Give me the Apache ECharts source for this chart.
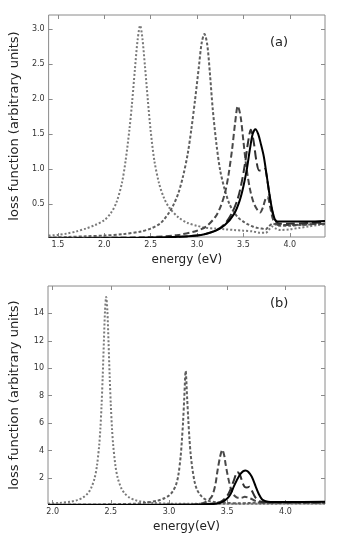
<!DOCTYPE html>
<html>
<head>
<meta charset="utf-8">
<script src="https://cdn.jsdelivr.net/npm/echarts@6/dist/echarts.min.js"></script>
<style>
html,body{margin:0;padding:0;background:#fff;}
#c{width:339px;height:542px;}
</style>
</head>
<body>
<div id="c"></div>
<script>
// ---------- Panel (a) ----------
var aXTicks = [1.5, 2.0, 2.5, 3.0, 3.5, 4.0];
var aYTicks = [0.5, 1.0, 1.5, 2.0, 2.5, 3.0];

var aDotX = [1.40,1.50,1.60,1.70,1.80,1.90,2.00,2.07,2.13,2.19,2.23,2.27,2.30,2.33,2.36,2.387,2.41,2.44,2.47,2.50,2.54,2.59,2.64,2.70,2.80,2.90,3.00,3.10,3.20,3.30,3.40,3.50,3.60,3.68,3.74,3.78,3.81,3.85,3.90,4.00,4.10,4.20,4.30,4.38];
var aDotY = [0.05,0.06,0.08,0.11,0.15,0.20,0.27,0.37,0.52,0.80,1.12,1.55,1.95,2.42,2.85,3.05,2.88,2.45,1.98,1.55,1.12,0.80,0.60,0.45,0.31,0.23,0.19,0.16,0.15,0.14,0.13,0.12,0.11,0.09,0.09,0.14,0.18,0.15,0.13,0.14,0.16,0.18,0.20,0.21];

var aShortX = [1.40,1.60,1.80,2.00,2.20,2.40,2.50,2.60,2.65,2.70,2.75,2.80,2.85,2.90,2.94,2.98,3.02,3.05,3.08,3.11,3.14,3.17,3.21,3.25,3.30,3.35,3.40,3.45,3.50,3.55,3.60,3.65,3.70,3.74,3.78,3.82,3.86,3.90,4.00,4.10,4.20,4.30,4.38];
var aShortY = [0.02,0.03,0.04,0.05,0.07,0.11,0.15,0.22,0.29,0.38,0.50,0.66,0.90,1.22,1.58,2.00,2.46,2.80,2.93,2.78,2.35,1.85,1.35,0.98,0.70,0.50,0.38,0.30,0.25,0.21,0.18,0.16,0.15,0.14,0.19,0.22,0.20,0.19,0.19,0.20,0.21,0.22,0.22];

var aMedX = [1.40,2.00,2.50,2.80,3.00,3.10,3.20,3.25,3.30,3.34,3.38,3.41,3.44,3.47,3.50,3.53,3.57,3.61,3.65,3.68,3.71,3.74,3.76,3.79,3.82,3.86,3.90,4.00,4.20,4.38];
var aMedY = [0.01,0.02,0.03,0.06,0.12,0.18,0.32,0.45,0.65,0.92,1.30,1.65,1.90,1.75,1.40,1.05,0.72,0.52,0.42,0.38,0.45,0.58,0.60,0.45,0.28,0.21,0.20,0.20,0.21,0.22];

var aLongX = [1.40,2.50,3.00,3.20,3.30,3.38,3.44,3.48,3.52,3.55,3.58,3.61,3.64,3.67,3.70,3.73,3.76,3.79,3.82,3.86,3.90,4.00,4.20,4.38];
var aLongY = [0.01,0.02,0.05,0.12,0.22,0.38,0.58,0.80,1.10,1.38,1.56,1.40,1.12,0.98,0.98,1.00,0.82,0.55,0.35,0.24,0.22,0.22,0.23,0.24];

var aSolidX = [1.40,2.50,3.00,3.20,3.30,3.40,3.46,3.50,3.54,3.57,3.60,3.63,3.66,3.69,3.72,3.75,3.78,3.81,3.84,3.87,3.90,4.00,4.20,4.38];
var aSolidY = [0.01,0.02,0.05,0.12,0.20,0.36,0.55,0.75,1.02,1.28,1.50,1.57,1.50,1.35,1.18,0.92,0.65,0.42,0.28,0.25,0.25,0.25,0.25,0.26];

// ---------- Panel (b) ----------
var bXTicks = [2.0, 2.5, 3.0, 3.5, 4.0];
var bYTicks = [2, 4, 6, 8, 10, 12, 14];

var bDotX = [1.96,2.06,2.16,2.21,2.26,2.30,2.33,2.36,2.38,2.40,2.41,2.42,2.43,2.44,2.45,2.46,2.47,2.48,2.49,2.50,2.51,2.52,2.54,2.56,2.59,2.62,2.66,2.71,2.76,2.86,3.00,3.20,3.40,3.60,3.80,4.00,4.20,4.34];
var bDotY = [0.12,0.18,0.28,0.38,0.57,0.86,1.25,1.97,2.85,4.40,5.60,7.25,9.40,11.9,14.2,15.2,14.2,11.9,9.40,7.25,5.60,4.40,2.85,1.97,1.25,0.86,0.57,0.38,0.28,0.18,0.13,0.11,0.11,0.12,0.12,0.13,0.13,0.14];

var bShortX = [1.96,2.40,2.70,2.80,2.90,2.96,3.00,3.03,3.06,3.08,3.10,3.11,3.12,3.13,3.143,3.155,3.165,3.175,3.185,3.20,3.22,3.24,3.27,3.30,3.34,3.40,3.45,3.50,3.60,3.70,3.80,4.00,4.20,4.34];
var bShortY = [0.05,0.07,0.12,0.20,0.34,0.52,0.72,1.00,1.50,2.20,3.60,4.70,6.00,7.70,9.80,7.90,6.30,4.90,3.80,2.70,1.70,1.15,0.74,0.50,0.33,0.23,0.20,0.18,0.15,0.18,0.20,0.20,0.20,0.20];

var bMedX = [1.96,3.00,3.20,3.30,3.34,3.372,3.40,3.415,3.44,3.458,3.475,3.486,3.50,3.515,3.53,3.544,3.565,3.59,3.62,3.65,3.70,3.75,3.80,4.00,4.34];
var bMedY = [0.02,0.03,0.05,0.20,0.38,0.72,1.60,2.45,3.60,4.05,3.60,3.00,2.35,1.75,1.25,0.95,0.68,0.55,0.55,0.62,0.50,0.30,0.20,0.20,0.20];

var bLongX = [1.96,3.20,3.40,3.45,3.50,3.53,3.56,3.587,3.61,3.63,3.65,3.67,3.69,3.71,3.74,3.77,3.80,4.00,4.34];
var bLongY = [0.02,0.05,0.15,0.30,0.70,1.20,1.90,2.44,2.20,1.70,1.35,1.30,1.35,1.10,0.60,0.35,0.25,0.22,0.22];

var bSolidX = [1.96,3.20,3.30,3.40,3.45,3.50,3.53,3.557,3.58,3.61,3.635,3.658,3.68,3.71,3.744,3.77,3.80,3.83,3.87,4.00,4.34];
var bSolidY = [0.02,0.05,0.08,0.12,0.22,0.50,0.85,1.39,1.80,2.25,2.48,2.55,2.45,2.10,1.39,0.85,0.43,0.30,0.25,0.25,0.26];

function pairs(xs, ys) { return xs.map(function (x, i) { return [x, ys[i]]; }); }

var FONT = 'DejaVu Sans';
var FRAME = '#8a8a8a';
var TICKCOL = '#8a8a8a';

function xAx(grid, min, max, ticks, name, top) {
  return {
    type: 'value', gridIndex: grid, min: min, max: max, position: top ? 'top' : 'bottom',
    axisLine: { show: false },
    axisTick: { show: true, inside: true, length: 4, customValues: ticks, lineStyle: { color: TICKCOL, width: 1 } },
    axisLabel: { show: !top, customValues: ticks, fontFamily: FONT, fontSize: 8, color: '#333', margin: 4,
      formatter: function (v) { return v.toFixed(1); } },
    splitLine: { show: false },
    name: top ? '' : name, nameLocation: 'middle', nameGap: 17,
    nameTextStyle: { fontFamily: FONT, fontSize: 12, color: '#222' }
  };
}
function yAx(grid, min, max, ticks, dec, name, right) {
  return {
    type: 'value', gridIndex: grid, min: min, max: max, position: right ? 'right' : 'left',
    axisLine: { show: false },
    axisTick: { show: true, inside: true, length: 4, customValues: ticks, lineStyle: { color: TICKCOL, width: 1 } },
    axisLabel: { show: !right, customValues: ticks, fontFamily: FONT, fontSize: 8, color: '#333', margin: 4,
      formatter: function (v) { return dec ? v.toFixed(1) : String(Math.round(v)); } },
    splitLine: { show: false },
    name: right ? '' : name, nameLocation: 'middle', nameGap: dec ? 22 : 27, nameRotate: 90,
    nameTextStyle: { fontFamily: FONT, fontSize: 13, color: '#222' }
  };
}

var styles = [
  { color: '#7a7a7a', type: [2, 2], width: 2 },
  { color: '#5e5e5e', type: [3, 2], width: 2 },
  { color: '#484848', type: [6, 3], width: 2 },
  { color: '#303030', type: [9, 4], width: 2 },
  { color: '#000000', type: 'solid', width: 2 }
];

function ser(xi, yi, xs, ys, st) {
  return {
    type: 'line', xAxisIndex: xi, yAxisIndex: yi, data: pairs(xs, ys),
    showSymbol: false, symbol: 'none', smooth: 0.3, clip: true, animation: false,
    lineStyle: { color: st.color, type: st.type, width: st.width, cap: 'butt' }
  };
}

var chart = echarts.init(document.getElementById('c'), null, { renderer: 'canvas' });
chart.setOption({
  animation: false,
  backgroundColor: '#fff',
  grid: [
    { left: 42, top: 15, width: 283, height: 222, show: true, borderColor: FRAME, borderWidth: 1, backgroundColor: 'transparent' },
    { left: 47, top: 286, width: 278, height: 218, show: true, borderColor: FRAME, borderWidth: 1, backgroundColor: 'transparent' }
  ],
  xAxis: [
    xAx(0, 1.4, 4.38, aXTicks, 'energy (eV)', false),
    xAx(0, 1.4, 4.38, aXTicks, '', true),
    xAx(1, 1.96, 4.34, bXTicks, 'energy(eV)', false),
    xAx(1, 1.96, 4.34, bXTicks, '', true)
  ],
  yAxis: [
    yAx(0, 0.03, 3.2, aYTicks, true, 'loss function (arbitrary units)', false),
    yAx(0, 0.03, 3.2, aYTicks, true, '', true),
    yAx(1, 0.1, 16, bYTicks, false, 'loss function (arbitrary units)', false),
    yAx(1, 0.1, 16, bYTicks, false, '', true)
  ],
  graphic: [
    { type: 'text', left: 270, top: 36, style: { text: '(a)', fontFamily: FONT, fontSize: 13, fill: '#222' } },
    { type: 'text', left: 270, top: 297, style: { text: '(b)', fontFamily: FONT, fontSize: 13, fill: '#222' } }
  ],
  series: [
    ser(0, 0, aDotX, aDotY, styles[0]),
    ser(0, 0, aShortX, aShortY, styles[1]),
    ser(0, 0, aMedX, aMedY, styles[2]),
    ser(0, 0, aLongX, aLongY, styles[3]),
    ser(0, 0, aSolidX, aSolidY, styles[4]),
    ser(2, 2, bDotX, bDotY, styles[0]),
    ser(2, 2, bShortX, bShortY, styles[1]),
    ser(2, 2, bMedX, bMedY, styles[2]),
    ser(2, 2, bLongX, bLongY, styles[3]),
    ser(2, 2, bSolidX, bSolidY, styles[4])
  ]
});
</script>
</body>
</html>
